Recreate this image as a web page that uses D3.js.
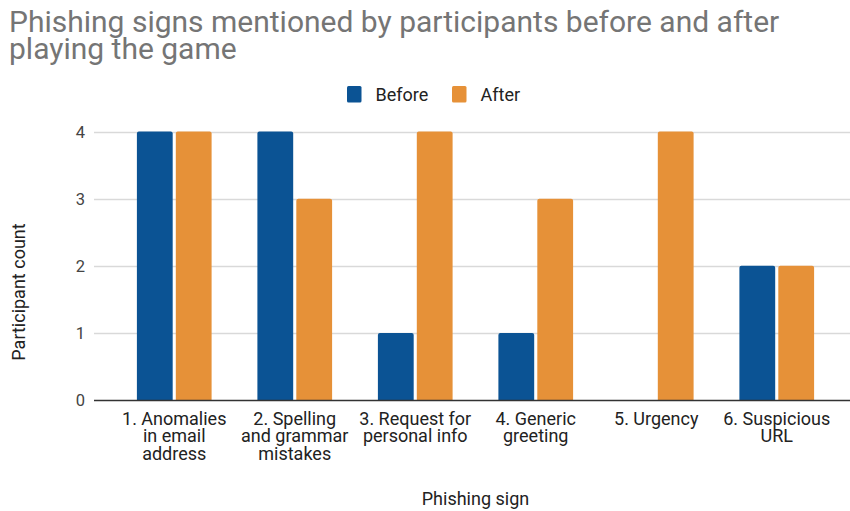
<!DOCTYPE html>
<html>
<head>
<meta charset="utf-8">
<script src="https://cdn.jsdelivr.net/npm/d3@7"></script>
<style>
  html, body { margin: 0; padding: 0; background: #fff; }
  svg { display: block; font-family: Roboto, "Noto Sans", sans-serif; }
</style>
</head>
<body>
<svg id="chart" width="850" height="511"></svg>
<script>
// Phishing signs and participant counts
const categories = [
  "1. Anomalies in email address",
  "2. Spelling and grammar mistakes",
  "3. Request for personal info",
  "4. Generic greeting",
  "5. Urgency",
  "6. Suspicious URL"
];
const categoryLines = [
  ["1. Anomalies", "in email", "address"],
  ["2. Spelling", "and grammar", "mistakes"],
  ["3. Request for", "personal info"],
  ["4. Generic", "greeting"],
  ["5. Urgency"],
  ["6. Suspicious", "URL"]
];
const seriesNames = ["Before", "After"];
const beforeValues = [4, 4, 1, 1, 0, 2];
const afterValues = [4, 3, 4, 3, 4, 2];
const yTicks = [0, 1, 2, 3, 4];
const colors = ["#0b5394", "#e69138"];

const svg = d3.select("#chart");
const gridLeft = 94, gridRight = 850;
const yTop = 131.5, yBottom = 400;
const labelSize = 18;

const x = d3.scaleBand().domain(categories).range([114, 837])
  .paddingInner(0.38).paddingOuter(0.19);
const xSub = d3.scaleBand().domain(seriesNames).range([0, x.bandwidth()])
  .paddingInner(0.08);
const y = d3.scaleLinear().domain([0, 4]).range([yBottom, yTop]);

// Title
const title = svg.append("text")
  .attr("fill", "#757575")
  .attr("font-size", 30);
title.append("tspan").attr("x", 9).attr("y", 32)
  .text("Phishing signs mentioned by participants before and after");
title.append("tspan").attr("x", 9).attr("y", 58.5)
  .text("playing the game");

// Legend
const legend = svg.append("g");
const legendItems = [{ name: "Before", x: 347 }, { name: "After", x: 452 }];
legendItems.forEach((d, i) => {
  legend.append("rect")
    .attr("x", d.x).attr("y", 86).attr("width", 14.5).attr("height", 16.5)
    .attr("rx", 1.5).attr("fill", colors[i]);
  legend.append("text")
    .attr("x", d.x + 28.5).attr("y", 101)
    .attr("font-size", labelSize).attr("fill", "#222")
    .text(d.name);
});

// Horizontal gridlines
svg.append("g").selectAll("line")
  .data(yTicks.filter(t => t !== 0))
  .join("line")
  .attr("x1", gridLeft).attr("x2", gridRight)
  .attr("y1", d => Math.round(y(d)) + 0.5).attr("y2", d => Math.round(y(d)) + 0.5)
  .attr("stroke", "#d9d9d9").attr("stroke-width", 1.3);

// Y axis tick labels
const yAxis = d3.axisLeft(y).tickValues(yTicks).tickSize(0).tickPadding(0)
  .tickFormat(d3.format("d"));
svg.append("g")
  .attr("transform", `translate(${85},0)`)
  .call(yAxis)
  .call(g => g.select(".domain").remove())
  .call(g => g.selectAll("text")
    .attr("font-family", "Roboto, sans-serif")
    .attr("font-size", 16.5).attr("fill", "#444").attr("dy", "0.36em"));

// Bars
const groups = svg.append("g").selectAll("g")
  .data(categories.map((c, i) => ({ c, vals: [beforeValues[i], afterValues[i]] })))
  .join("g")
  .attr("transform", d => `translate(${x(d.c)},0)`);

groups.selectAll("path")
  .data(d => d.vals.map((v, j) => ({ name: seriesNames[j], v, j })).filter(e => e.v > 0))
  .join("path")
  .attr("fill", d => colors[d.j])
  .attr("d", d => {
    const x0 = xSub(d.name), w = xSub.bandwidth();
    const y0 = y(d.v), h = y(0) - y0, r = 2;
    return `M${x0},${y0 + h}V${y0 + r}Q${x0},${y0} ${x0 + r},${y0}` +
      `H${x0 + w - r}Q${x0 + w},${y0} ${x0 + w},${y0 + r}V${y0 + h}Z`;
  });

// Baseline
svg.append("line")
  .attr("x1", gridLeft).attr("x2", gridRight)
  .attr("y1", yBottom + 0.5).attr("y2", yBottom + 0.5)
  .attr("stroke", "#333").attr("stroke-width", 1.3);

// X axis category labels
const xLabels = svg.append("g").selectAll("text")
  .data(categories)
  .join("text")
  .attr("text-anchor", "middle")
  .attr("font-size", labelSize).attr("fill", "#222");
xLabels.each(function (d, i) {
  const t = d3.select(this);
  categoryLines[i].forEach((line, k) => {
    t.append("tspan")
      .attr("x", x(d) + x.bandwidth() / 2)
      .attr("y", 424.5 + k * 17.8)
      .text(line);
  });
});

// Axis titles
svg.append("text")
  .attr("x", (x.range()[0] + x.range()[1]) / 2).attr("y", 505)
  .attr("text-anchor", "middle")
  .attr("font-size", labelSize).attr("fill", "#222")
  .text("Phishing sign");

svg.append("text")
  .attr("transform", "translate(25,292) rotate(-90)")
  .attr("text-anchor", "middle")
  .attr("font-size", labelSize).attr("fill", "#222")
  .text("Participant count");
</script>
</body>
</html>
